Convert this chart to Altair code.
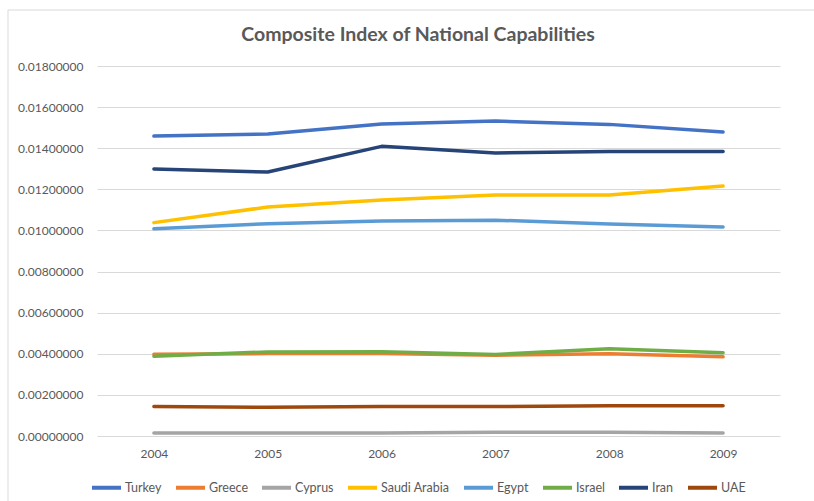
import altair as alt
import pandas as pd

years = ["2004", "2005", "2006", "2007", "2008", "2009"]
countries = ["Turkey", "Greece", "Cyprus", "Saudi Arabia", "Egypt", "Israel", "Iran", "UAE"]
turkey = [0.01459, 0.01469, 0.01518, 0.01532, 0.01516, 0.01479]
greece = [0.00398, 0.00401, 0.00401, 0.00393, 0.00400, 0.00385]
cyprus = [0.00015, 0.00014, 0.00014, 0.00018, 0.00018, 0.00015]
saudi = [0.01038, 0.01114, 0.01148, 0.01172, 0.01172, 0.01216]
egypt = [0.01008, 0.01033, 0.01046, 0.01050, 0.01031, 0.01017]
israel = [0.00388, 0.00409, 0.00410, 0.00397, 0.00425, 0.00405]
iran = [0.01299, 0.01284, 0.01409, 0.01377, 0.01384, 0.01384]
uae = [0.00143, 0.00140, 0.00143, 0.00143, 0.00147, 0.00147]
colors = ["#4472C4", "#ED7D31", "#A5A5A5", "#FFC000", "#5B9BD5", "#70AD47", "#264478", "#9E480E"]
y_ticks = [0.0, 0.002, 0.004, 0.006, 0.008, 0.010, 0.012, 0.014, 0.016, 0.018]
title_text = "Composite Index of National Capabilities"

series = [turkey, greece, cyprus, saudi, egypt, israel, iran, uae]
rows = []
for c, vals in zip(countries, series):
    for y, v in zip(years, vals):
        rows.append({"Year": y, "Country": c, "Value": v})
df = pd.DataFrame(rows)

FONT = "Lato"
GRAY = "#595959"

lines = alt.Chart(df).mark_line(strokeWidth=3.5, strokeCap="round", strokeJoin="round").encode(
    x=alt.X("Year:N", sort=years, scale=alt.Scale(paddingInner=0, paddingOuter=0.5),
            axis=alt.Axis(title=None, labelAngle=0, ticks=False, domain=False, grid=False,
                          labelPadding=12, labelFont=FONT, labelFontSize=12, labelColor=GRAY)),
    y=alt.Y("Value:Q", scale=alt.Scale(domain=[0, 0.018], nice=False),
            axis=alt.Axis(title=None, values=y_ticks, format=".8f",
                          ticks=False, domain=False, grid=True, gridColor="#D9D9D9", gridWidth=1,
                          labelPadding=14, labelFont=FONT, labelFontSize=12, labelColor=GRAY)),
    color=alt.Color("Country:N", sort=countries,
                    scale=alt.Scale(domain=countries, range=colors),
                    legend=alt.Legend(title=None, orient="none", legendX=-7, legendY=405,
                                      direction="horizontal", columns=8,
                                      symbolType="stroke", symbolStrokeWidth=4,
                                      symbolSize=841, labelFont=FONT, labelFontSize=12.5,
                                      labelColor=GRAY, columnPadding=6, labelOffset=2)),
    order=alt.Order("Year:N"),
)

border = alt.Chart(pd.DataFrame({"a": [0]})).mark_rect(fill=None, stroke="#D9D9D9", strokeWidth=1).encode(
    x=alt.value(-89), x2=alt.value(723), y=alt.value(-56), y2=alt.value(444)
)

title = alt.Chart(pd.DataFrame({"t": [title_text]})).mark_text(
    font=FONT, fontSize=19.5, fontWeight="bold", color=GRAY, align="center", baseline="middle"
).encode(text="t:N", x=alt.value(321), y=alt.value(-31))

chart = alt.layer(border, lines, title).properties(
    width=683, height=370,
    autosize=alt.AutoSizeParams(type="none"),
    padding={"left": 97, "top": 66, "right": 34, "bottom": 65},
    background="white",
).configure_view(stroke=None)

chart.save("out.html", embed_options={"renderer": "svg", "actions": False})
